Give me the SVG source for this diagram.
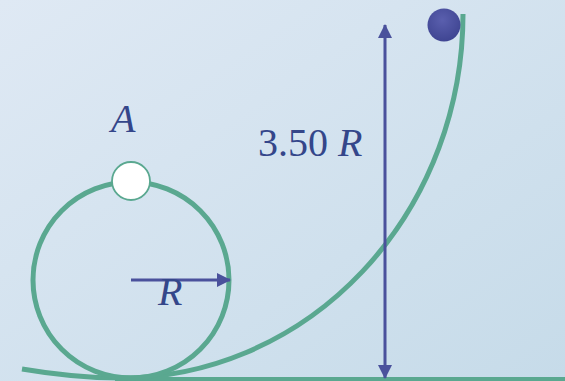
<svg xmlns="http://www.w3.org/2000/svg" width="565" height="381" viewBox="0 0 565 381">
<defs>
<linearGradient id="bg" x1="0" y1="0" x2="1" y2="1">
<stop offset="0" stop-color="#dfe9f4"/>
<stop offset="1" stop-color="#c6dbe9"/>
</linearGradient>
<radialGradient id="ball" cx="0.45" cy="0.35" r="0.65">
<stop offset="0" stop-color="#5a5fae"/>
<stop offset="1" stop-color="#3f4592"/>
</radialGradient>
<marker id="ah" viewBox="0 0 14 14" refX="13" refY="7" markerWidth="14" markerHeight="14" markerUnits="userSpaceOnUse" orient="auto-start-reverse">
<path d="M0,0 L14,7 L0,14 Z" fill="#4a519c"/>
</marker>
<style>
.track{fill:none;stroke:#5aa890;stroke-width:5}
.arrow{fill:none;stroke:#4a519c;stroke-width:3}
.lbl{font-family:"Liberation Serif","Times New Roman",serif;font-size:40px;fill:#34468a}
.it{font-style:italic}
</style>
</defs>
<rect width="565" height="381" fill="url(#bg)"/>
<g id="track">
<path class="track" d="M463 14 A343 364 0 0 1 120 378 Q75 378 22 369"/>
<line class="track" x1="115" y1="379.5" x2="565" y2="379.5" stroke-width="4"/>
</g>
<g id="loop">
<circle class="track" cx="131" cy="280" r="98"/>
</g>
<g id="connectors">
<line class="arrow" x1="131" y1="280" x2="230" y2="280" marker-end="url(#ah)"/>
<line class="arrow" x1="385" y1="25" x2="385" y2="378" marker-start="url(#ah)" marker-end="url(#ah)"/>
</g>
<g id="pointA">
<circle cx="131" cy="181" r="19" fill="#ffffff" stroke="#5aa890" stroke-width="1.8"/>
<text class="lbl it" x="111" y="132">A</text>
</g>
<g id="ball-node">
<circle cx="444" cy="25" r="16.5" fill="url(#ball)"/>
</g>
<g id="labels">
<text class="lbl" x="258" y="156">3.50 <tspan class="it">R</tspan></text>
<text class="lbl it" x="158" y="305">R</text>
</g>
</svg>
